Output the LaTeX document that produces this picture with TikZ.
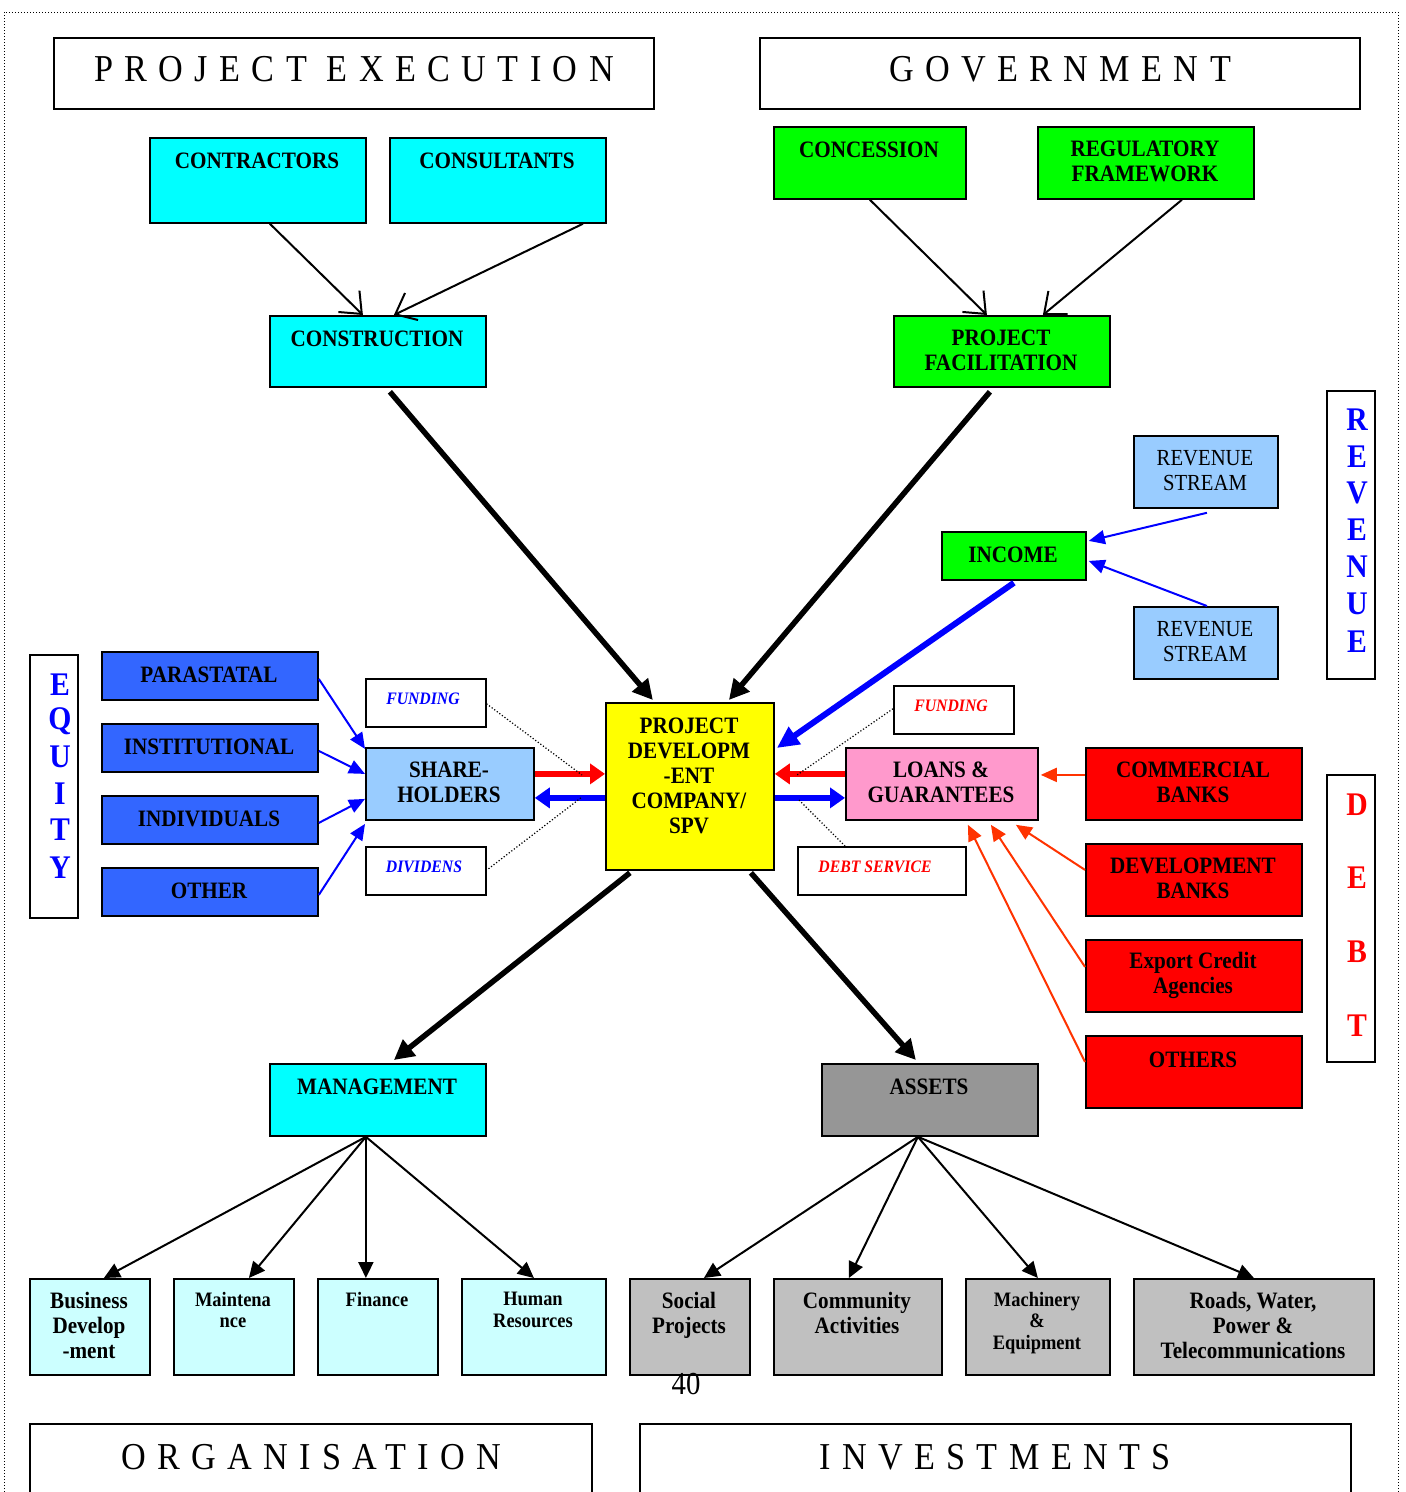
\documentclass[tikz,border=0pt]{standalone}
\usepackage{fontspec}
\setmainfont{Liberation Serif}
\newfontfamily\cnd[FakeStretch=0.9]{Liberation Serif}
\newfontfamily\ttlfont[FakeStretch=0.9,LetterSpace=30]{Liberation Serif}
\usetikzlibrary{arrows.meta}
\definecolor{cy}{HTML}{00FFFF}
\definecolor{gr}{HTML}{00FF00}
\definecolor{bb}{HTML}{3366FF}
\definecolor{lb}{HTML}{99CCFF}
\definecolor{ye}{HTML}{FFFF00}
\definecolor{pk}{HTML}{FF99CC}
\definecolor{rd}{HTML}{FF0000}
\definecolor{dg}{HTML}{969696}
\definecolor{lg}{HTML}{C0C0C0}
\definecolor{lc}{HTML}{CCFFFF}
\definecolor{bl}{HTML}{0000FF}
\definecolor{orr}{HTML}{FF3300}
\tikzset{
  bx/.style={draw=black, line width=1.8pt, inner sep=0pt, anchor=north west},
  tb/.style={font=\cnd\bfseries\fontsize{23.5}{25}\selectfont, align=center, inner sep=0pt},
  ts/.style={font=\cnd\bfseries\fontsize{20.5}{21.5}\selectfont, align=center, inner sep=0pt},
  tr/.style={font=\cnd\fontsize{23}{25}\selectfont, align=center, inner sep=0pt},
  ti/.style={font=\cnd\bfseries\itshape\fontsize{17.5}{19}\selectfont, inner sep=0pt},
  tt/.style={font=\ttlfont\fontsize{38}{40}\selectfont, inner sep=0pt},
  tv/.style={font=\cnd\bfseries\fontsize{33}{35}\selectfont, inner sep=0pt},
  thin/.style={line width=2pt, -{Straight Barb[length=18pt,width=30pt]}},
  thick/.style={line width=5.5pt, -{Triangle[length=20pt,width=20pt]}},
  fan/.style={line width=2pt, -{Triangle[length=16pt,width=15pt]}},
  bar/.style={line width=2pt, -{Triangle[length=16pt,width=14pt]}},
  hv/.style={line width=6pt, -{Triangle[length=15pt,width=20pt]}},
  dots/.style={line width=1.2pt, dotted},
}
\begin{document}
\begin{tikzpicture}[x=1pt,y=-1pt]
\useasboundingbox (0,0) rectangle (1406,1492);
\fill[white] (0,0) rectangle (1406,1492);
\draw[line width=1pt, dotted] (4,1510) -- (4,12) -- (1398,12) -- (1398,1510);

% title boxes
\node[bx, minimum width=600, minimum height=71] (pe) at (53,37) {};
\node[tt] (pe-t) at (354,69) {PROJECT EXECUTION};
\node[bx, minimum width=600, minimum height=71] (gov) at (759,37) {};
\node[tt] (gov-t) at (1060,69) {GOVERNMENT};
\node[bx, minimum width=562, minimum height=90] (org) at (29,1423) {};
\node[tt] (org-t) at (311,1457) {ORGANISATION};
\node[bx, minimum width=711, minimum height=90] (inv) at (639,1423) {};
\node[tt] (inv-t) at (995,1457) {INVESTMENTS};

% project execution
\node[bx, fill=cy, minimum width=216, minimum height=85] (contr) at (149,137) {};
\node[tb] (contr-t) at (257,161) {CONTRACTORS};
\node[bx, fill=cy, minimum width=216, minimum height=85] (cons) at (389,137) {};
\node[tb] (cons-t) at (497,161) {CONSULTANTS};
\node[bx, fill=cy, minimum width=216, minimum height=71] (constr) at (269,315) {};
\node[tb] (constr-t) at (377,339) {CONSTRUCTION};

% government
\node[bx, fill=gr, minimum width=192, minimum height=72] (conc) at (773,126) {};
\node[tb] (conc-t) at (869,150) {CONCESSION};
\node[bx, fill=gr, minimum width=216, minimum height=72] (reg) at (1037,126) {};
\node[tb] (reg-t) at (1145,161.5) {REGULATORY\\FRAMEWORK};
\node[bx, fill=gr, minimum width=216, minimum height=71] (pf) at (893,315) {};
\node[tb] (pf-t) at (1001,350.5) {PROJECT\\FACILITATION};

% revenue
\node[bx, fill=lb, minimum width=144, minimum height=72] (rs1) at (1133,435) {};
\node[tr] (rs1-t) at (1205,470.5) {REVENUE\\STREAM};
\node[bx, fill=lb, minimum width=144, minimum height=72] (rs2) at (1133,606) {};
\node[tr] (rs2-t) at (1205,641.5) {REVENUE\\STREAM};
\node[bx, fill=gr, minimum width=144, minimum height=48] (inc) at (941,531) {};
\node[tb] (inc-t) at (1013,555) {INCOME};
\node[bx, minimum width=48, minimum height=288] (revbox) at (1326,390) {};
\foreach \l/\yy [count=\i] in {R/420,E/457,V/493,E/530,N/567,U/604,E/642}
  \node[tv, text=bl] (rev-\i) at (1357,\yy) {\l};

% equity
\node[bx, minimum width=48, minimum height=263] (eqbox) at (29,654) {};
\foreach \l/\yy [count=\i] in {E/685,Q/721,U/757,I/794,T/830,Y/868}
  \node[tv, text=bl] (eq-\i) at (60,\yy) {\l};
\node[bx, fill=bb, minimum width=216, minimum height=48] (para) at (101,651) {};
\node[tb] (para-t) at (209,675) {PARASTATAL};
\node[bx, fill=bb, minimum width=216, minimum height=48] (inst) at (101,723) {};
\node[tb] (inst-t) at (209,747) {INSTITUTIONAL};
\node[bx, fill=bb, minimum width=216, minimum height=48] (indi) at (101,795) {};
\node[tb] (indi-t) at (209,819) {INDIVIDUALS};
\node[bx, fill=bb, minimum width=216, minimum height=48] (oth) at (101,867) {};
\node[tb] (oth-t) at (209,891) {OTHER};
\node[bx, fill=lb, minimum width=168, minimum height=72] (sh) at (365,747) {};
\node[tb] (sh-t) at (449,782.5) {SHARE-\\HOLDERS};
\node[bx, line width=1.5pt, minimum width=120, minimum height=48] (fund1) at (365,678) {};
\node[ti, text=bl] (fund1-t) at (423,699) {FUNDING};
\node[bx, line width=1.5pt, minimum width=120, minimum height=48] (div) at (365,846) {};
\node[ti, text=bl] (div-t) at (424,867) {DIVIDENS};

% centre
\node[bx, fill=ye, minimum width=168, minimum height=167] (pdc) at (605,702) {};
\node[tb, anchor=north] (pdc-t) at (689,718) {PROJECT\\DEVELOPM\\-ENT\\COMPANY/\\SPV};

% debt
\node[bx, fill=pk, minimum width=192, minimum height=72] (loans) at (845,747) {};
\node[tb] (loans-t) at (941,782.5) {LOANS \&\\GUARANTEES};
\node[bx, line width=1.5pt, minimum width=120, minimum height=48] (fund2) at (893,685) {};
\node[ti, text=rd] (fund2-t) at (951,706) {FUNDING};
\node[bx, line width=1.5pt, minimum width=168, minimum height=48] (debt) at (797,846) {};
\node[ti, text=rd] (debt-t) at (875,867) {DEBT SERVICE};
\node[bx, fill=rd, minimum width=216, minimum height=72] (cb) at (1085,747) {};
\node[tb] (cb-t) at (1193,782.5) {COMMERCIAL\\BANKS};
\node[bx, fill=rd, minimum width=216, minimum height=72] (db) at (1085,843) {};
\node[tb] (db-t) at (1193,878.5) {DEVELOPMENT\\BANKS};
\node[bx, fill=rd, minimum width=216, minimum height=72] (eca) at (1085,939) {};
\node[tb] (eca-t) at (1193,975.5) {Export Credit\\Agencies};
\node[bx, fill=rd, minimum width=216, minimum height=72] (othd) at (1085,1035) {};
\node[tb] (othd-t) at (1193,1060) {OTHERS};
\node[bx, minimum width=48, minimum height=287] (debtbox) at (1326,774) {};
\foreach \l/\yy [count=\i] in {D/805,E/878,B/952,T/1026}
  \node[tv, text=rd] (debt-\i) at (1357,\yy) {\l};

% management / assets
\node[bx, fill=cy, minimum width=216, minimum height=72] (mgmt) at (269,1063) {};
\node[tb] (mgmt-t) at (377,1087) {MANAGEMENT};
\node[bx, fill=dg, minimum width=216, minimum height=72] (ass) at (821,1063) {};
\node[tb] (ass-t) at (929,1087) {ASSETS};

\node[bx, fill=lc, minimum width=120, minimum height=96] (bus) at (29,1278) {};
\node[tb, anchor=north] (bus-t) at (89,1292) {Business\\Develop\\-ment};
\node[bx, fill=lc, minimum width=120, minimum height=96] (mnt) at (173,1278) {};
\node[ts, anchor=north] (mnt-t) at (233,1292) {Maintena\\nce};
\node[bx, fill=lc, minimum width=120, minimum height=96] (fin) at (317,1278) {};
\node[ts, anchor=north] (fin-t) at (377,1292) {Finance};
\node[bx, fill=lc, minimum width=144, minimum height=96] (hr) at (461,1278) {};
\node[ts, anchor=north] (hr-t) at (533,1292) {Human\\Resources};
\node[bx, fill=lg, minimum width=120, minimum height=96] (soc) at (629,1278) {};
\node[tb, anchor=north] (soc-t) at (689,1292) {Social\\Projects};
\node[bx, fill=lg, minimum width=168, minimum height=96] (com) at (773,1278) {};
\node[tb, anchor=north] (com-t) at (857,1292) {Community\\Activities};
\node[bx, fill=lg, minimum width=144, minimum height=96] (mach) at (965,1278) {};
\node[ts, anchor=north] (mach-t) at (1037,1292) {Machinery\\\&\\Equipment};
\node[bx, fill=lg, minimum width=240, minimum height=96] (road) at (1133,1278) {};
\node[tb, anchor=north] (road-t) at (1253,1292) {Roads, Water,\\Power \&\\Telecommunications};
\node[font=\cnd\fontsize{32}{34}\selectfont, inner sep=0pt] (pg) at (686,1384) {40};

% thin black arrows (top)
\draw[thin] ([xshift=12]contr.south) -- ([xshift=-15]constr.north);
\draw[thin] ([xshift=85]cons.south) -- ([xshift=16]constr.north);
\draw[thin] (conc.south) -- ([xshift=-15]pf.north);
\draw[thin] ([xshift=36]reg.south) -- ([xshift=41]pf.north);

% thick black arrows
\draw[thick] ([xshift=12,yshift=-4]constr.south) -- ([xshift=-37,yshift=2]pdc.north);
\draw[thick] ([xshift=-12,yshift=-4]pf.south) -- ([xshift=39,yshift=2]pdc.north);
\draw[thick] ([xshift=-60,yshift=-2]pdc.south) -- ([xshift=16,yshift=3]mgmt.north);
\draw[thick] ([xshift=61,yshift=-2]pdc.south) -- ([xshift=-14,yshift=3]ass.north);

% fans
\draw[fan] ([xshift=-12]mgmt.south) -- ([xshift=14]bus.north);
\draw[fan] ([xshift=-12]mgmt.south) -- ([xshift=15]mnt.north);
\draw[fan] ([xshift=-12]mgmt.south) -- ([xshift=-12]fin.north);
\draw[fan] ([xshift=-12]mgmt.south) -- (hr.north);
\draw[fan] ([xshift=-12]ass.south) -- ([xshift=14]soc.north);
\draw[fan] ([xshift=-12]ass.south) -- ([xshift=-9]com.north);
\draw[fan] ([xshift=-12]ass.south) -- (mach.north);
\draw[fan] ([xshift=-12]ass.south) -- (road.north);

% equity arrows
\draw[bar, bl] ([yshift=-3]para.east) -- ([yshift=35]sh.west);
\draw[bar, bl] ([yshift=-3]inst.east) -- ([yshift=10]sh.west);
\draw[bar, bl] ([yshift=-3]indi.east) -- ([yshift=-15]sh.west);
\draw[bar, bl] ([yshift=-3]oth.east) -- ([yshift=-40]sh.west);

% shareholders <-> pdc
\draw[hv, rd] ([yshift=10]sh.east) -- ([yshift=10]sh.east -| pdc.west);
\draw[hv, bl] ([yshift=-14]sh.east -| pdc.west) -- ([yshift=-14]sh.east);
% loans <-> pdc
\draw[hv, rd] ([yshift=10]loans.west) -- ([yshift=10]loans.west -| pdc.east);
\draw[hv, bl] ([yshift=-14]loans.west -| pdc.east) -- ([yshift=-14]loans.west);

% dotted callouts
\coordinate (d1) at (582,775);
\coordinate (d2) at (582,797);
\coordinate (d3) at (797,775);
\coordinate (d4) at (799,800);
\draw[dots] ([yshift=-1]fund1.east) -- (d1);
\draw[dots] ([xshift=2,yshift=2]div.east) -- (d2);
\draw[dots] ([yshift=1]fund2.west) -- (d3);
\draw[dots] (d4) -- ([xshift=48]debt.north west);

% income
\draw[line width=6pt, bl, -{Triangle[length=22pt,width=20pt]}] ([yshift=-2]inc.south) -- ([xshift=2,yshift=-46]pdc.north east);
\draw[bar, bl] ([xshift=1,yshift=-4]rs1.south) -- ([xshift=2,yshift=15]inc.east);
\draw[bar, bl] ([xshift=1]rs2.north) -- ([xshift=2,yshift=-5]inc.east);

% debt arrows
\draw[bar, orr] ([yshift=9]cb.west) -- ([xshift=2,yshift=9]loans.east);
\draw[bar, orr] ([yshift=10]db.west) -- ([xshift=74,yshift=-4]loans.south);
\draw[bar, orr] ([yshift=9]eca.west) -- ([xshift=49,yshift=-4]loans.south);
\draw[bar, orr] ([yshift=10]othd.west) -- ([xshift=26,yshift=-4]loans.south);
\end{tikzpicture}
\end{document}
